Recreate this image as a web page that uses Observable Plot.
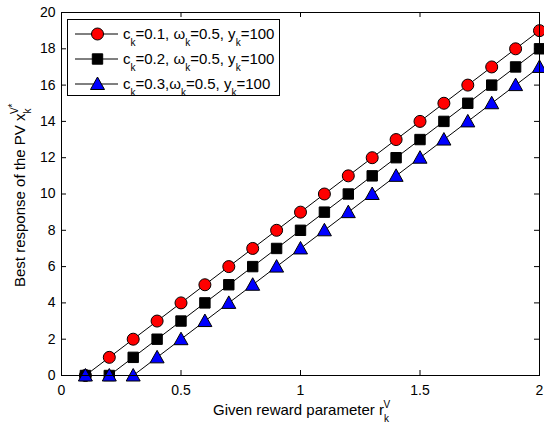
<!DOCTYPE html>
<html><head><meta charset="utf-8">
<script src="https://cdn.jsdelivr.net/npm/d3@7"></script>
<script src="https://cdn.jsdelivr.net/npm/@observablehq/plot@0.6"></script>
<style>
body{margin:0;background:#fff}
svg{font-family:"Liberation Sans",Arial,Helvetica,sans-serif}
</style>
</head><body><div id="chart"></div>
<script>
// ---- data ----
const rewards = [0.1,0.2,0.3,0.4,0.5,0.6,0.7,0.8,0.9,1.0,1.1,1.2,1.3,1.4,1.5,1.6,1.7,1.8,1.9,2.0];
const bestC01 = [0,1,2,3,4,5,6,7,8,9,10,11,12,13,14,15,16,17,18,19];
const bestC02 = [0,0,1,2,3,4,5,6,7,8,9,10,11,12,13,14,15,16,17,18];
const bestC03 = [0,0,0,1,2,3,4,5,6,7,8,9,10,11,12,13,14,15,16,17];
const seriesKeys = ["c01","c02","c03"];
const xTicks = [0,0.5,1,1.5,2];
const yTicks = [0,2,4,6,8,10,12,14,16,18,20];
const xTickLabels = ["0","0.5","1","1.5","2"];

const W = 544, H = 428;
const mL = 61, mR = 5, mT = 12, mB = 53;
const innerH = H - mT - mB, innerW = W - mL - mR;

const rows = (vals, key) => rewards.map((x, i) => ({x, y: vals[i], s: key}));
const d1 = rows(bestC01, seriesKeys[0]);
const d2 = rows(bestC02, seriesKeys[1]);
const d3r = rows(bestC03, seriesKeys[2]);

const squareSym = {draw(ctx, size){ const a = 5.2; ctx.moveTo(-a,-a); ctx.lineTo(a,-a); ctx.lineTo(a,a); ctx.lineTo(-a,a); ctx.closePath(); }};
const triSym = {draw(ctx, size){ ctx.moveTo(0,-7); ctx.lineTo(7,5.5); ctx.lineTo(-7,5.5); ctx.closePath(); }};

const chart = Plot.plot({
  width: W, height: H,
  marginLeft: mL, marginRight: mR, marginTop: mT, marginBottom: mB,
  style: {fontFamily: '"Liberation Sans",Arial,sans-serif', background: "#fff"},
  x: {domain: [0, 2]},
  y: {domain: [0, 20]},
  marks: [
    // inward ticks
    Plot.ruleX(xTicks, {x: d => d, insetTop: innerH - 5, stroke: "black"}),
    Plot.ruleX(xTicks, {x: d => d, insetBottom: innerH - 5, stroke: "black"}),
    Plot.ruleY(yTicks, {y: d => d, insetRight: innerW - 5, stroke: "black"}),
    Plot.ruleY(yTicks, {y: d => d, insetLeft: innerW - 5, stroke: "black"}),
    Plot.axisX({ticks: xTicks, tickSize: 0, tickPadding: 10, fontSize: 14, tickFormat: (d, i) => xTickLabels[xTicks.indexOf(d)], label: null, color: "black"}),
    Plot.axisY({ticks: yTicks, tickSize: 0, tickPadding: 6, fontSize: 14, tickFormat: d => String(d), label: null, color: "black"}),
    Plot.line(d1, {x: "x", y: "y", stroke: "black", strokeWidth: 1}),
    Plot.dot(d1, {x: "x", y: "y", r: 6, fill: "#ff0000", stroke: "black", strokeWidth: 1}),
    Plot.line(d2, {x: "x", y: "y", stroke: "black", strokeWidth: 1}),
    Plot.dot(d2, {x: "x", y: "y", symbol: squareSym, r: 6, fill: "black", stroke: "black", strokeWidth: 1}),
    Plot.line(d3r, {x: "x", y: "y", stroke: "black", strokeWidth: 1}),
    Plot.dot(d3r, {x: "x", y: "y", symbol: triSym, r: 6, fill: "#0000ff", stroke: "black", strokeWidth: 1}),
    Plot.frame({stroke: "black"})
  ]
});
document.getElementById("chart").appendChild(chart);

// ---- rich text helpers (labels and legend) ----
const svg = d3.select(chart);
function rich(textSel, parts) {
  textSel.attr("text-anchor", "start");
  let cur = 0;
  for (const [t, shift, fs, dx] of parts) {
    textSel.append("tspan").attr("dy", shift - cur).attr("dx", dx || 0).attr("font-size", fs).text(t);
    cur = shift;
  }
}
// x label
rich(svg.append("text").attr("x", 213).attr("y", 415).attr("fill", "black").attr("font-size", 15),
  [["Given reward parameter r", 0, 15], ["k", 7, 10], ["V", -7, 10, -5.5]]);
// y label
rich(svg.append("text").attr("transform", "translate(25,287) rotate(-90)").attr("fill", "black").attr("font-size", 15),
  [["Best response of the PV x", 0, 15], ["k", 6, 10], ["V", -7, 10, -5.5], ["*", -9, 10]]);

// legend
const legendLabels = [
  [["c", 0, 15], ["k", 7, 10], ["=0.1, \u03c9", 0, 15], ["k", 7, 10], ["=0.5, y", 0, 15], ["k", 7, 10], ["=100", 0, 15]],
  [["c", 0, 15], ["k", 7, 10], ["=0.2, \u03c9", 0, 15], ["k", 7, 10], ["=0.5, y", 0, 15], ["k", 7, 10], ["=100", 0, 15]],
  [["c", 0, 15], ["k", 7, 10], ["=0.3,\u03c9", 0, 15], ["k", 7, 10], ["=0.5, y", 0, 15], ["k", 7, 10], ["=100", 0, 15]]
];
const lg = svg.append("g");
lg.append("rect").attr("x", 67.5).attr("y", 19.5).attr("width", 212).attr("height", 76).attr("fill", "white").attr("stroke", "black");
const rowY = [34, 59, 84];
const markers = [
  g => g.append("circle").attr("r", 6).attr("fill", "#ff0000").attr("stroke", "black"),
  g => g.append("path").attr("d", d3.symbol(squareSym)()).attr("fill", "black").attr("stroke", "black"),
  g => g.append("path").attr("d", d3.symbol(triSym)()).attr("fill", "#0000ff").attr("stroke", "black")
];
rowY.forEach((y, i) => {
  lg.append("line").attr("x1", 75).attr("x2", 118).attr("y1", y).attr("y2", y).attr("stroke", "black");
  markers[i](lg.append("g").attr("transform", `translate(97.5,${y})`));
  rich(lg.append("text").attr("x", 123).attr("y", y + 5).attr("fill", "black").attr("font-size", 15), legendLabels[i]);
});
</script>
</body></html>
